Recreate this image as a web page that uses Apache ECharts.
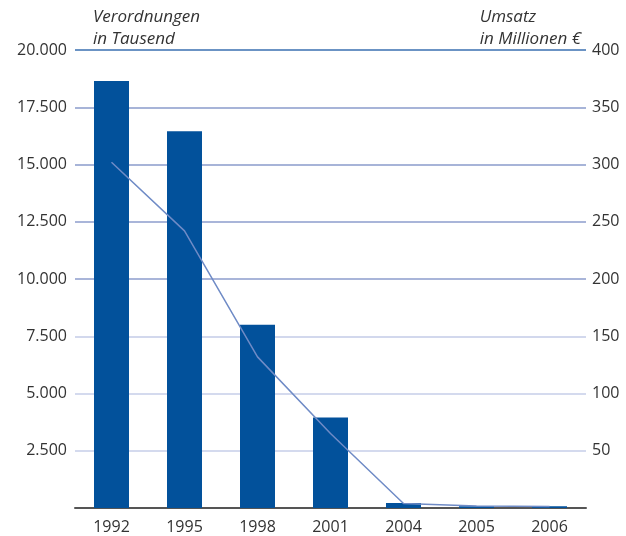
<!DOCTYPE html>
<html>
<head>
<meta charset="utf-8">
<script src="https://cdn.jsdelivr.net/npm/echarts@6/dist/echarts.min.js"></script>
<style>
  html, body { margin: 0; padding: 0; background: #fff; }
  #chart { width: 626px; height: 536px; }
</style>
</head>
<body>
<div id="chart"></div>
<script>
// Jahre und Werte
const years = ['1992', '1995', '1998', '2001', '2004', '2005', '2006']
const verordnungen = [18650, 16450, 8000, 3950, 220, 75, 75]   // in Tausend
const umsatz = [302, 242, 132, 65, 4, 1.7, 1.3]                 // in Millionen €

// Gitterlinien von unten (0) nach oben (20.000)
const gridColors = ['#555555', '#c6cee9', '#c6cee9', '#c3cbe7', '#8c9dcc', '#8c9dcc', '#8a9bcb', '#8a9bcb', '#3a6fb1']

const fontFamily = '"Open Sans", "DejaVu Sans", sans-serif'

const fmtDE = (v) => {
  if (v === 0) return ''
  return String(v).replace(/\B(?=(\d{3})+(?!\d))/g, '.')
}

const chart = echarts.init(document.getElementById('chart'), null, { renderer: 'canvas' })

chart.setOption({
  animation: false,
  grid: { left: 75, right: 40, top: 50, bottom: 28 },
  graphic: [
    {
      type: 'text', left: 93, top: 6,
      style: { text: 'Verordnungen\nin Tausend', font: 'italic 17px ' + fontFamily, fill: '#333', lineHeight: 22 }
    },
    {
      type: 'text', right: 45, top: 6,
      style: { text: 'Umsatz\nin Millionen €', font: 'italic 17px ' + fontFamily, fill: '#333', lineHeight: 22, align: 'right' }
    }
  ],
  xAxis: {
    type: 'category',
    data: years,
    axisLine: { lineStyle: { color: '#555', width: 2 } },
    axisTick: { show: false },
    axisLabel: { color: '#333', fontSize: 16, fontFamily: fontFamily, margin: 11 }
  },
  yAxis: [
    {
      type: 'value',
      min: 0, max: 20000, interval: 2500,
      axisLine: { show: false },
      axisTick: { show: false },
      axisLabel: { color: '#333', fontSize: 16, fontFamily: fontFamily, margin: 8, formatter: fmtDE },
      splitLine: { lineStyle: { color: gridColors, width: 1.5 } }
    },
    {
      type: 'value',
      min: 0, max: 400, interval: 50,
      position: 'right',
      axisLine: { show: false },
      axisTick: { show: false },
      axisLabel: { color: '#333', fontSize: 16, fontFamily: fontFamily, margin: 6, formatter: fmtDE },
      splitLine: { show: false }
    }
  ],
  series: [
    {
      name: 'Verordnungen',
      type: 'bar',
      data: verordnungen,
      barWidth: 35,
      itemStyle: { color: '#02519b' }
    },
    {
      name: 'Umsatz',
      type: 'line',
      yAxisIndex: 1,
      data: umsatz,
      symbol: 'none',
      lineStyle: { color: '#6f8bc6', width: 1.5 }
    }
  ]
})
</script>
</body>
</html>
